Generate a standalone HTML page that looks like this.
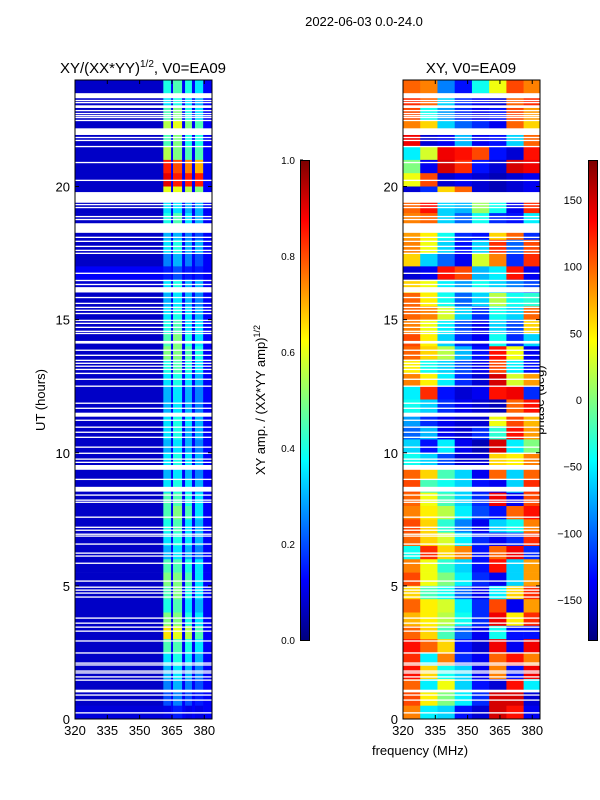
<!DOCTYPE html>
<html><head><meta charset="utf-8"><style>
body{margin:0;background:#fff;position:relative;width:600px;height:800px;overflow:hidden;}
svg{position:absolute;left:0;top:0;}
svg text{font-family:"Liberation Sans",sans-serif;fill:#000;}
.cb{position:absolute;top:160px;width:8px;height:479px;border:1px solid #000;
background:linear-gradient(to top,#00007f 0%,#0000ff 12.5%,#0080ff 25%,#00ffff 37.5%,#80ff80 50%,#ffff00 62.5%,#ff8000 75%,#ff0000 87.5%,#7f0000 100%);}
</style></head><body>
<svg id="fig" width="600" height="800" xmlns="http://www.w3.org/2000/svg">
<rect width="600" height="800" fill="#fff"/>
<text x="364" y="26" font-size="13" text-anchor="middle">2022-06-03 0.0-24.0</text>
<text x="143" y="73" font-size="15" text-anchor="middle">XY/(XX*YY)<tspan font-size="10" dy="-6">1/2</tspan><tspan dy="6">, V0=EA09</tspan></text>
<text x="471" y="73" font-size="15" text-anchor="middle">XY, V0=EA09</text>
<text transform="translate(45,400) rotate(-90)" font-size="13" text-anchor="middle">UT (hours)</text>
<text x="420" y="755" font-size="13" text-anchor="middle">frequency (MHz)</text>
<text transform="translate(265,400) rotate(-90)" font-size="13" text-anchor="middle">XY amp. / (XX*YY amp)<tspan font-size="9" dy="-5">1/2</tspan></text>
<text transform="translate(544,400) rotate(-90)" font-size="13" text-anchor="middle">phase (deg)</text>
<g id="amp"></g>
<g id="phase"></g>
<g id="flags"></g>
<g id="axes"></g>
</svg>
<div class="cb" style="left:300px"></div>
<div class="cb" style="left:588px"></div>
<script>
// ---- data ----
const timeRowsStartHours = [24,23.5,23,22.5,22,21.5,21,20.5,20,19.5,19,18.5,18,17.5,17,16.5,16,15.5,15,14.5,14,13.5,13,12.5,12,11.5,11,10.5,10,9.5,9,8.5,8,7.5,7,6.5,6,5.5,5,4.5,4,3.5,3,2.5,2,1.5,1,0.5];
const ampChannelEdges = [320,361,364.6,365.5,369.7,371.1,374.3,375.7,379.5,383.6];
const ampBase = [0.07,0.07,0.07,0.07,0.07,0.07,0.07,0.07,0.07,0.07,0.07,0.07,0.07,0.07,0.12,0.08,0.07,0.07,0.07,0.07,0.07,0.07,0.07,0.07,0.07,0.07,0.07,0.07,0.07,0.07,0.07,0.07,0.07,0.07,0.07,0.07,0.07,0.07,0.07,0.07,0.07,0.07,0.07,0.07,0.07,0.07,0.07,0.09];
const ampGap = 0.12;
const ampBright = [
[0.4,0.45,0.4,0.35],[0.35,0.4,0.35,0.3],[0.45,0.5,0.4,0.35],[0.55,0.6,0.5,0.45],[0.45,0.5,0.4,0.4],[0.55,0.5,0.45,0.45],
[0.85,0.8,0.75,0.7],[0.9,0.85,0.85,0.85],[0.6,0.6,0.55,0.5],[0.35,0.35,0.3,0.3],[0.4,0.45,0.35,0.3],[0.3,0.3,0.25,0.2],
[0.35,0.4,0.3,0.3],[0.25,0.3,0.25,0.2],[0.15,0.2,0.15,0.15],[0.35,0.4,0.3,0.3],[0.3,0.35,0.3,0.25],[0.35,0.4,0.35,0.3],
[0.4,0.45,0.35,0.35],[0.45,0.5,0.4,0.35],[0.5,0.5,0.45,0.4],[0.4,0.45,0.4,0.35],[0.35,0.4,0.35,0.3],[0.3,0.35,0.3,0.25],
[0.3,0.35,0.3,0.25],[0.35,0.4,0.35,0.3],[0.35,0.4,0.3,0.3],[0.3,0.35,0.3,0.25],[0.35,0.4,0.35,0.3],[0.3,0.35,0.3,0.25],
[0.35,0.4,0.35,0.3],[0.45,0.45,0.4,0.35],[0.45,0.5,0.45,0.35],[0.4,0.45,0.35,0.3],[0.35,0.4,0.35,0.3],[0.3,0.35,0.3,0.25],
[0.45,0.45,0.4,0.35],[0.5,0.5,0.45,0.35],[0.45,0.5,0.4,0.35],[0.4,0.45,0.35,0.3],[0.5,0.5,0.4,0.35],[0.65,0.6,0.55,0.45],
[0.45,0.45,0.4,0.35],[0.35,0.4,0.35,0.3],[0.3,0.35,0.3,0.25],[0.25,0.3,0.25,0.2],[0.2,0.25,0.2,0.15],[0.1,0.15,0.1,0.1]];
const phaseChannelEdges = [320,328,336,344,352,360,368,376,384];
const phaseDeg = [
[100,90,-90,-130,-40,40,110,90],[120,100,-60,-120,-140,-150,100,120],[110,-40,-80,-120,-140,-130,110,80],[90,60,-60,-100,-120,-140,100,60],
[140,-150,-140,-70,-140,-130,-60,100],[-50,30,140,130,110,-130,-150,130],[0,-140,150,120,-130,-150,150,140],[40,110,-150,-140,-150,-160,-150,-140],
[-150,-120,60,100,-150,-160,-150,-140],[100,130,-60,-70,10,-40,-140,120],[90,100,-60,-100,-40,-120,-130,-50],[80,50,-40,-120,-130,60,100,-120],
[90,40,-60,-130,-60,120,-100,110],[60,-60,-100,-140,30,90,-120,120],[-150,-140,130,110,-70,-50,130,-140],[60,40,-50,-80,-40,-60,-90,-110],
[100,50,-40,-100,-60,20,-40,-30],[100,90,30,-60,-120,-40,-60,100],[90,40,-50,-110,-140,-60,-110,60],[110,50,-60,-120,-140,-40,-120,-60],
[100,60,20,-70,-130,130,40,-140],[50,-40,-60,-110,-140,110,-50,-130],[90,50,-50,-120,-150,150,30,80],[-50,120,-130,-150,-140,130,140,-120],
[-40,-60,-120,-140,-150,-160,100,130],[-80,-120,-140,-150,-150,40,110,70],[-100,-70,-140,-150,-120,-30,130,80],[-60,-130,-50,-140,-160,150,-50,0],
[-40,-60,-110,-150,-150,60,50,90],[100,60,-20,-60,-140,100,-60,100],[110,-20,-40,-60,-130,-140,-60,120],[100,40,-20,-60,-120,140,-140,110],
[90,50,20,-50,-110,-130,100,130],[110,60,-30,-90,-140,-60,-40,90],[100,60,30,-50,-120,-140,-120,120],[-40,120,60,90,-130,100,140,-120],
[90,40,-30,-60,-130,130,-60,80],[110,40,0,-50,-120,-140,-60,80],[60,-20,-40,-100,-140,-50,60,120],[100,50,30,-50,-120,110,-140,80],
[70,50,20,-40,-120,140,50,120],[100,60,-20,-100,-140,-40,-130,-130],[130,100,60,-130,-150,140,-140,140],[120,-50,90,-120,-140,100,130,90],
[130,60,-40,-60,-140,90,-130,140],[100,-50,40,-60,-130,-150,130,-50],[110,50,0,-50,-120,150,150,-150],[90,-50,-60,-130,-150,150,130,-140]];
const flagHours = [23.41,23.23,23.15,23.0,22.85,22.74,22.66,22.59,22.48,22.06,21.84,21.73,21.5,20.9,20.23,19.59,19.32,19.21,18.87,18.76,18.44,18.09,17.94,17.75,17.6,17.49,16.74,16.47,16.32,16.12,15.83,15.61,15.46,15.35,15.23,14.97,14.86,14.71,14.56,14.48,14.15,13.85,13.66,13.47,13.36,13.25,13.13,12.98,12.76,12.5,11.86,11.67,11.43,11.22,10.96,10.77,10.58,10.21,9.98,9.76,9.64,9.45,9.0,8.63,8.41,8.22,8.14,7.58,7.2,7.09,6.94,6.87,6.57,6.23,6.12,5.85,5.18,4.95,4.84,4.73,4.58,3.79,3.6,3.45,3.3,2.93,2.48,2.1,2.03,1.8,1.73,1.58,1.46,1.05,0.9,0.71,0.23];
const flagDur = [0.19,0.05,0.05,0.1,0.05,0.05,0.05,0.05,0.05,0.25,0.05,0.05,0.05,0.05,0.05,0.4,0.05,0.05,0.05,0.05,0.36,0.05,0.05,0.05,0.05,0.05,0.05,0.05,0.05,0.2,0.05,0.05,0.05,0.05,0.05,0.05,0.05,0.05,0.05,0.05,0.1,0.05,0.05,0.05,0.05,0.05,0.05,0.05,0.05,0.05,0.05,0.05,0.15,0.05,0.05,0.05,0.05,0.05,0.05,0.05,0.05,0.18,0.05,0.18,0.05,0.05,0.05,0.05,0.05,0.05,0.05,0.05,0.05,0.05,0.05,0.05,0.05,0.05,0.05,0.05,0.05,0.05,0.05,0.05,0.05,0.05,0.05,0.05,0.05,0.05,0.05,0.05,0.05,0.1,0.05,0.05,0.05];
const xTicks = [320,335,350,365,380];
const yTicks = [0,5,10,15,20];
const ampCbTicks = [0.0,0.2,0.4,0.6,0.8,1.0];
const phaseCbTicks = [-150,-100,-50,0,50,100,150];

// ---- scales ----
const NS='http://www.w3.org/2000/svg';
const panels=[{x0:75,x1:212},{x0:403,x1:540}];
const F0=320,F1=383.6,T0=0,T1=24,Y0=719,Y1=80;
const xs=(p,f)=>p.x0+(f-F0)/(F1-F0)*(p.x1-p.x0);
const ys=h=>Y0+(h-T0)/(T1-T0)*(Y1-Y0);
function jet(v){v=Math.max(0,Math.min(1,v));
 const r=Math.max(0,Math.min(1,1.5-Math.abs(4*v-3))),g=Math.max(0,Math.min(1,1.5-Math.abs(4*v-2))),b=Math.max(0,Math.min(1,1.5-Math.abs(4*v-1)));
 return `rgb(${Math.round(r*255)},${Math.round(g*255)},${Math.round(b*255)})`;}
function mk(tag,attrs,parent){const e=document.createElementNS(NS,tag);for(const k in attrs)e.setAttribute(k,attrs[k]);parent.appendChild(e);return e;}

// amp heatmap
const ampG=document.getElementById('amp');
const nCh=ampChannelEdges.length-1;
timeRowsStartHours.forEach((h,i)=>{
 const yt=ys(h),yb=ys(h-0.5);
 for(let c=0;c<nCh;c++){
  let v;
  if(c===0)v=ampBase[i];
  else if(c===nCh-1)v=Math.max(ampGap,ampBase[i]);
  else if(c%2===1)v=ampBright[i][(c-1)/2];
  else v=Math.max(ampGap,ampBase[i]);
  const xa=xs(panels[0],ampChannelEdges[c]),xb=xs(panels[0],ampChannelEdges[c+1]);
  const r=mk('rect',{x:xa,y:yt,width:xb-xa+0.3,height:yb-yt+0.3,fill:jet(v)},ampG);
  
  
 }
});
// phase heatmap
const phG=document.getElementById('phase');
timeRowsStartHours.forEach((h,i)=>{
 const yt=ys(h),yb=ys(h-0.5);
 for(let c=0;c<phaseChannelEdges.length-1;c++){
  const xa=xs(panels[1],phaseChannelEdges[c]),xb=Math.min(panels[1].x1,xs(panels[1],phaseChannelEdges[c+1]));
  const r=mk('rect',{x:xa,y:yt,width:xb-xa+0.3,height:yb-yt+0.3,fill:jet((phaseDeg[i][c]+180)/360)},phG);
  
  
 }
});
// flags
const flG=document.getElementById('flags');
panels.forEach(p=>{
 flagHours.forEach((h,k)=>{
  const d=flagDur[k];
  const r=mk('rect',{x:p.x0,y:ys(h+d/2),width:p.x1-p.x0,height:Math.max(1.3,ys(h-d/2)-ys(h+d/2)),fill:'#fff'},flG);
  
  
 });
});
// axes
const ax=document.getElementById('axes');
panels.forEach(p=>{
 const fr=mk('rect',{x:p.x0,y:Y1,width:p.x1-p.x0,height:Y0-Y1,fill:'none',stroke:'#000','stroke-width':1},ax);
 
 
 xTicks.forEach(t=>{const x=xs(p,t);
  mk('line',{x1:x,y1:Y0,x2:x,y2:Y0-4,stroke:'#000'},ax);mk('line',{x1:x,y1:Y1,x2:x,y2:Y1+4,stroke:'#000'},ax);
  const tx=mk('text',{x:x,y:Y0+16,'font-size':13,'text-anchor':'middle'},ax);tx.textContent=t;
  
  
 });
 yTicks.forEach(t=>{const y=ys(t);
  mk('line',{x1:p.x0,y1:y,x2:p.x0+4,y2:y,stroke:'#000'},ax);mk('line',{x1:p.x1,y1:y,x2:p.x1-4,y2:y,stroke:'#000'},ax);
  const tx=mk('text',{x:p.x0-5,y:y+5,'font-size':13,'text-anchor':'end'},ax);tx.textContent=t;
  
  
 });
});
ampCbTicks.forEach(t=>{const y=640-t*480;
 mk('line',{x1:300,y1:y,x2:303,y2:y,stroke:'#000'},ax);
 const tx=mk('text',{x:295,y:y+4,'font-size':10,'text-anchor':'end'},ax);tx.textContent=t.toFixed(1);
 
 
});
phaseCbTicks.forEach(t=>{const y=400-t*480/360;
 mk('line',{x1:588,y1:y,x2:591,y2:y,stroke:'#000'},ax);
 const tx=mk('text',{x:582,y:y+4,'font-size':11,'text-anchor':'end'},ax);tx.textContent=(t<0?'\u2212'+(-t):t);
 
 
});
</script>
</body></html>
